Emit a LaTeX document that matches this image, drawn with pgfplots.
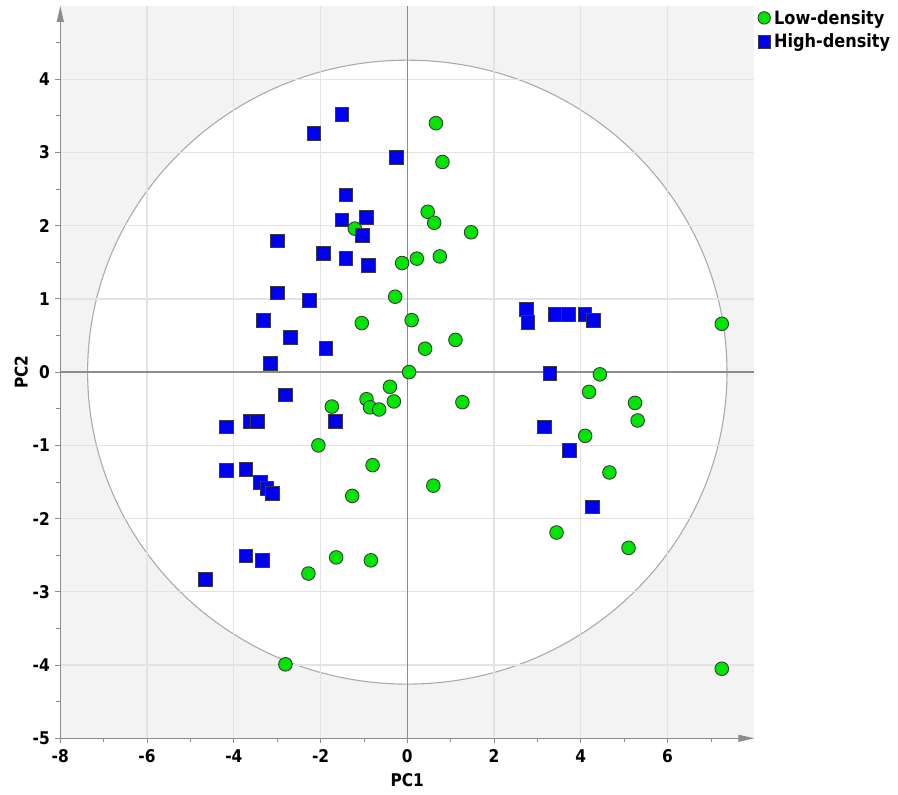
\documentclass[border=0pt]{standalone}
\usepackage{pgfplots}
\pgfplotsset{compat=1.18}
\usepackage{fontspec}
\setmainfont{DejaVu Sans}
\newfontfamily\tickfont{DejaVu Sans}[FakeStretch=0.88]
\usetikzlibrary{arrows.meta}
\definecolor{bggray}{HTML}{F3F3F3}
\definecolor{gridc}{HTML}{E3E3E3}
\definecolor{axc}{HTML}{8C8C8C}
\definecolor{ellc}{HTML}{ABABAB}
\definecolor{lowg}{HTML}{00E600}
\definecolor{highb}{HTML}{0000F0}
\definecolor{edgec}{HTML}{3A3A3A}
\begin{document}
\begin{tikzpicture}
\begin{axis}[
  set layers,
  at={(60.3bp,56.7bp)}, anchor=south west,
  scale only axis, width=694bp, height=732.3bp,
  xmin=-8, xmax=8, ymin=-5, ymax=5,
  axis lines=left,
  axis line style={axc, line width=1.2bp, -{Triangle[length=16bp,width=7bp]}},
  xtick={-8,-6,-4,-2,0,2,4,6},
  ytick={-5,-4,-3,-2,-1,0,1,2,3,4},
  minor xtick={-7,-5,-3,-1,1,3,5,7},
  minor ytick={-4.5,-3.5,-2.5,-1.5,-0.5,0.5,1.5,2.5,3.5,4.5},
  tick align=outside,
  major tick length=5bp, minor tick length=4bp,
  tick style={axc, line width=1bp},
  minor tick style={axc, line width=0.8bp},
  xmajorgrids, ymajorgrids,
  major grid style={gridc, line width=1.2bp},
  grid style={gridc},
  ticklabel style={font=\fontsize{17.5bp}{20bp}\tickfont\bfseries},
  xticklabel style={yshift=-3bp},
  yticklabel style={xshift=-2bp},
  /pgf/number format/assume math mode=true,
  xlabel={PC1}, ylabel={PC2},
  label style={font=\fontsize{17.5bp}{20bp}\tickfont\bfseries},
  xlabel style={yshift=-4bp},
  ylabel style={yshift=-2bp},
  legend style={at={(1,1)}, anchor=north west, draw=none, fill=none,
    inner sep=0pt, xshift=3.5bp, yshift=-2.5bp, row sep=5.5bp,
    font=\fontsize{18.3bp}{20bp}\tickfont\bfseries,
    nodes={inner sep=1.5bp}},
  legend cell align=left,
  legend image code/.code={\draw[#1,mark size=6.2bp] plot coordinates {(0bp,0bp)}; \path[draw=none,fill=none] (0bp,-1bp) rectangle (8.5bp,1bp);},
]
\begin{pgfonlayer}{axis background}
\fill[bggray] (axis cs:-8,-5) rectangle (axis cs:8,5);
\fill[white] (axis cs:0,0) ellipse [x radius=7.37, y radius=4.26];
\draw[ellc, line width=1.1bp] (axis cs:0,0) ellipse [x radius=7.37, y radius=4.26];
\end{pgfonlayer}
\draw[axc, line width=1.5bp] (axis cs:0,-5) -- (axis cs:0,5);
\draw[axc, line width=1.5bp] (axis cs:-8,0) -- (axis cs:8,0);

\addplot[only marks, mark=*, mark size=6.8bp, mark options={fill=lowg, draw=edgec, line width=0.9bp}] coordinates {
(0.66,3.40) (0.81,2.87) (0.47,2.19) (0.62,2.04) (-1.21,1.96) (-0.12,1.49)
(0.22,1.55) (0.75,1.58) (-0.28,1.03) (-1.05,0.67) (0.10,0.71) (0.41,0.32)
(0.04,0.00) (1.47,1.91) (1.11,0.44) (7.25,0.66) (4.44,-0.03)
(-0.40,-0.20) (-0.94,-0.37) (-0.31,-0.40) (-1.74,-0.47) (-0.86,-0.48)
(-0.65,-0.51) (-2.05,-1.00) (-0.80,-1.27) (0.60,-1.55) (-1.27,-1.69)
(-1.64,-2.53) (-0.84,-2.57) (-2.28,-2.75) (-2.81,-3.99)
(1.27,-0.41) (4.19,-0.27) (5.25,-0.42) (5.31,-0.66) (4.10,-0.87)
(4.66,-1.37) (3.44,-2.19) (5.10,-2.40) (7.25,-4.05)
};
\addlegendentry{Low-density}
\addplot[only marks, mark=square*, mark size=6.8bp, mark options={fill=highb, draw=edgec, line width=0.9bp}] coordinates {
(-1.51,3.52) (-2.15,3.26) (-0.25,2.93) (-1.41,2.42) (-1.51,2.08) (-0.94,2.11)
(-1.03,1.87) (-3.00,1.79) (-1.94,1.62) (-1.41,1.55) (-0.90,1.46) (-3.00,1.08)
(-2.25,0.98) (-3.31,0.71) (-2.69,0.47) (-1.88,0.32) (-3.15,0.12)
(-2.81,-0.31) (-4.17,-0.75) (-3.61,-0.67) (-3.46,-0.67) (-1.65,-0.67)
(-4.17,-1.34) (-3.72,-1.33) (-3.38,-1.51) (-3.24,-1.59) (-3.11,-1.66)
(-3.72,-2.51) (-3.34,-2.57) (-4.65,-2.83)
(2.75,0.86) (2.78,0.68) (3.41,0.79) (3.71,0.79) (4.10,0.79) (4.29,0.71)
(3.29,-0.02) (3.16,-0.75) (3.74,-1.07) (4.27,-1.84)
};
\addlegendentry{High-density}
\end{axis}
\pgfresetboundingbox
\useasboundingbox (0bp,0bp) rectangle (898bp,795bp);
\end{tikzpicture}
\end{document}
